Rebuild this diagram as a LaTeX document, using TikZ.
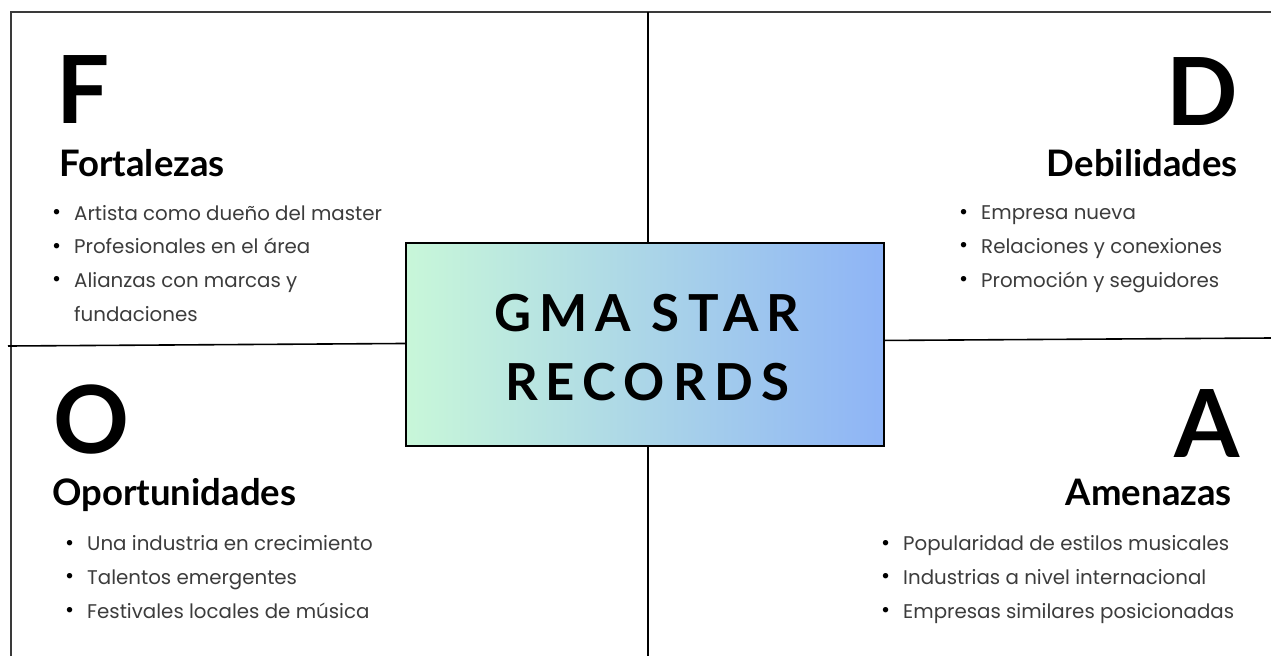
\documentclass[tikz,border=0pt]{standalone}
\usepackage{fontspec}
\setmainfont{Lato}
\newfontfamily\popfont{Poppins}
\newfontfamily\latofont{Lato}
\newfontfamily\latospaced[LetterSpace=16]{Lato}
\definecolor{framegray}{HTML}{3A3A3A}
\definecolor{itemgray}{HTML}{3C3C3C}
\definecolor{mintL}{HTML}{C8F7D9}
\definecolor{blueR}{HTML}{8EB4F6}
\tikzset{
  bigletter/.style={inner sep=0pt, font=\latofont\bfseries\fontsize{94}{94}\selectfont},
  heading/.style={inner sep=0pt, font=\latofont\bfseries\fontsize{36.5}{36.5}\selectfont},
  itemlist/.style={inner sep=0pt, align=left, text=itemgray, font=\popfont\fontsize{19.8}{33.6}\selectfont},
  gridline/.style={line width=1.6pt, black},
  framestyle/.style={line width=2pt, framegray},
  centerbox/.style={draw=black, line width=1.6pt, left color=mintL, right color=blueR, inner sep=0pt},
  titletext/.style={inner sep=0pt, font=\latospaced\bfseries\fontsize{51}{51}\selectfont}
}
\newcommand{\itm}[1]{\makebox[22pt][l]{\raisebox{0.5pt}{\color{black}\fontsize{22}{22}\selectfont•}}#1}
\newcommand{\itmcont}[1]{\makebox[22pt][l]{}#1}
\begin{document}
\begin{tikzpicture}[x=1pt,y=-1pt]
\useasboundingbox (0,0) rectangle (1271,656);
\fill[white] (0,0) rectangle (1271,656);
% frame and grid
\coordinate (frameBL) at (11,656);
\coordinate (frameTL) at (11,12);
\coordinate (frameTR) at (1271,12);
\coordinate (vTop) at (648,12);
\coordinate (vBot) at (648,656);
\coordinate (hLeft) at (8,346);
\coordinate (hRight) at (1271,338);
\draw[framestyle] (frameBL) -- (frameTL) -- (frameTR);
\draw[gridline] (vTop) -- (vBot);
\draw[gridline] (hLeft) -- (hRight);
% center box
\node[centerbox, minimum width=478pt, minimum height=203pt] (box) at (645,344.5) {};
\node[titletext] (t1) at (647,313) {GMA STAR};
\node[titletext] (t2) at (647,382) {RECORDS};
% F quadrant
\node[bigletter, anchor=base west] (F) at (56,123) {F};
\node[heading, anchor=base west] (Fh) at (59,176) {Fortalezas};
\node[itemlist, anchor=base west] (Fl) at (52,321) {\itm{Artista como dueño del master}\\ \itm{Profesionales en el área}\\ \itm{Alianzas con marcas y}\\ \itmcont{fundaciones}};
% D quadrant
\node[bigletter, anchor=base east] (D) at (1238,125) {D};
\node[heading, anchor=base east] (Dh) at (1238,176) {Debilidades};
\node[itemlist, anchor=base west] (Dl) at (959,287) {\itm{Empresa nueva}\\ \itm{Relaciones y conexiones}\\ \itm{Promoción y seguidores}};
% O quadrant
\node[bigletter, anchor=base west] (O) at (53,453) {O};
\node[heading, anchor=base west] (Oh) at (52,505) {Oportunidades};
\node[itemlist, anchor=base west] (Ol) at (65,618) {\itm{Una industria en crecimiento}\\ \itm{Talentos emergentes}\\ \itm{Festivales locales de música}};
% A quadrant
\node[bigletter, anchor=base east] (A) at (1240,457) {A};
\node[heading, anchor=base east] (Ah) at (1232,505) {Amenazas};
\node[itemlist, anchor=base west] (Al) at (881,618) {\itm{Popularidad de estilos musicales}\\ \itm{Industrias a nivel internacional}\\ \itm{Empresas similares posicionadas}};
\end{tikzpicture}
\end{document}
